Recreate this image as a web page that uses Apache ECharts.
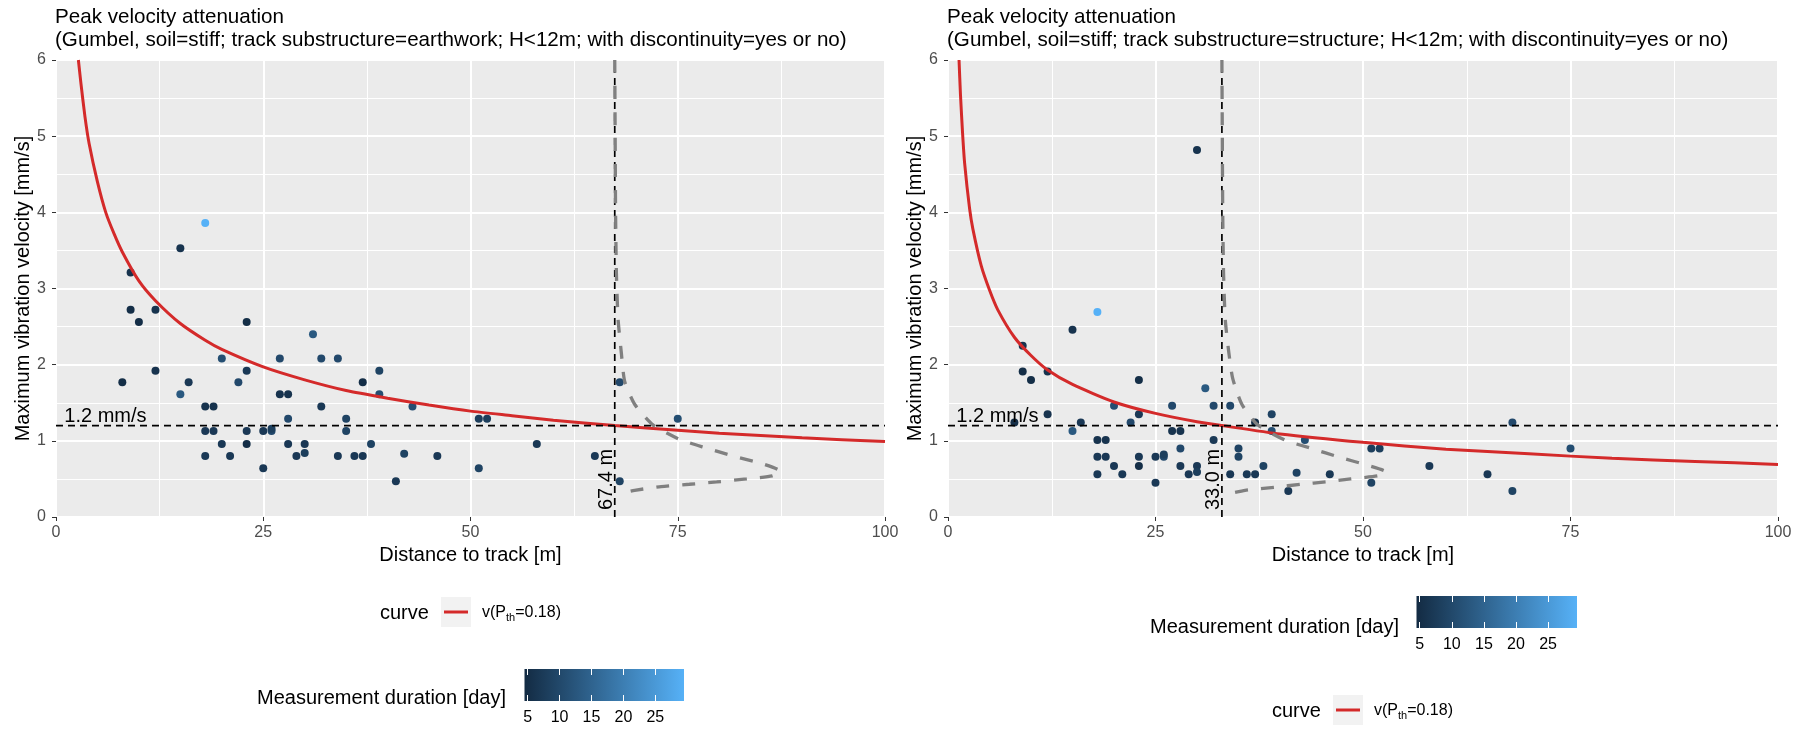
<!DOCTYPE html>
<html><head><meta charset="utf-8">
<script src="https://cdn.jsdelivr.net/npm/echarts@6/dist/echarts.min.js"></script>
<style>html,body{margin:0;padding:0;background:#fff}#c{width:1803px;height:729px}</style>
</head><body><div id="c"></div>
<script>
// ---------------- data ----------------
const distance = [8,9,9,10,12,12,15,15,16,18,18,19,18,19,18,20,20,21,22,23,23,23,23,25,25,26,26,27,27,28,28,28,29,30,30,30,31,32,32,34,34,35,35,36,37,37,38,39,39,41,42,43,46,51,52,51,58,65,68,68,75];
const duration = [5,6,5,5,6,6,6,13,7,29.5, 6,6,7,7,7,11,7,7,10,5, 7,7,5,7,7,10,8,10,6,6, 10,7,7,6,7,8,13,10,7,10, 7,9,9,7,5,7,9,9,11,7, 9,11,7,8,8,9,7,7,10,9, 11];
const velocityEarthwork = [1.77,3.21,2.72,2.56,2.72,1.92,3.53,1.61,1.77,3.86, 1.45,1.45,1.13,1.13,0.80,2.08,0.96,0.80,1.77,2.56, 1.92,1.13,0.96,0.64,1.13,1.13,1.16,2.08,1.61,1.61, 1.29,0.96,0.80,null,0.96,0.84,2.40,2.08,1.45,2.08, 0.80,1.29,1.13,0.80,1.77,0.80,0.96,1.92,1.61,0.47, 0.83,1.45,0.80,1.29,1.29,0.64,0.96,0.80,1.77,0.47, 1.29];
const velocityStructure = [1.24,2.25,1.91,1.80,1.91,1.35,2.46,1.13,1.24,2.69, 1.01,1.01,0.79,0.79,0.56,1.46,0.67,0.56,1.24,1.80, 1.35,0.79,0.67,0.45,0.79,0.79,0.82,1.46,1.13,1.13, 0.90,0.67,0.56,4.82,0.67,0.59,1.69,1.46,1.01,1.46, 0.56,0.90,0.79,0.56,1.24,0.56,0.67,1.35,1.13,0.34, 0.58,1.01,0.56,0.90,0.90,0.45,0.67,0.56,1.24,0.34, 0.90];
const curveEarthwork = [[2.7,6.0],[3,5.7],[3.5,5.25],[4,4.9],[5,4.4],[6,4.0],[7,3.72],[8,3.48],[10,3.1],[12,2.84],[15,2.54],[18,2.32],[20,2.2],[25,1.97],[30,1.8],[35,1.66],[40,1.56],[45,1.47],[50,1.39],[55,1.33],[60,1.27],[67.4,1.2],[75,1.14],[80,1.1],[90,1.04],[100,0.99]];
const curveStructure = [[1.33,6.0],[1.5,5.55],[1.75,5.05],[2,4.65],[2.6,4.05],[3,3.78],[4,3.3],[5,2.98],[6,2.72],[8,2.36],[10,2.12],[12,1.93],[15,1.74],[20,1.51],[25,1.36],[30,1.25],[33,1.2],[40,1.09],[50,0.98],[60,0.89],[70,0.83],[80,0.77],[90,0.73],[100,0.69]];
const densityEarthwork = [[67.4,6.0],[67.45,5.0],[67.5,4.0],[67.6,3.2],[67.8,2.6],[68.2,2.15],[68.6,1.78],[69.8,1.48],[72,1.21],[75.2,1.02],[78.3,0.91],[81.7,0.8],[85.2,0.7],[87.4,0.6],[86.4,0.54],[83.3,0.5],[79.7,0.46],[76.4,0.43],[73,0.4],[69.8,0.35],[68.1,0.31]];
const densityStructure = [[33.0,6.0],[33.05,5.0],[33.1,4.0],[33.2,3.2],[33.4,2.6],[33.8,2.19],[34.3,1.82],[35.4,1.48],[37.3,1.21],[40.6,1.01],[43.8,0.9],[47,0.79],[50.5,0.68],[52.8,0.59],[51.8,0.54],[48.5,0.5],[45.5,0.46],[42.6,0.43],[39.3,0.39],[35.8,0.35],[34,0.31]];
const thresholdVelocity = 1.2;
const thresholdDistance = [67.4, 33.0];
const colorRange = [4.5, 29.5];
const colorbarTicks = [5, 10, 15, 20, 25];
const titles = [
  'Peak velocity attenuation\n(Gumbel, soil=stiff; track substructure=earthwork; H<12m; with discontinuity=yes or no)',
  'Peak velocity attenuation\n(Gumbel, soil=stiff; track substructure=structure; H<12m; with discontinuity=yes or no)'
];
// -----------------------------------------------------------------

const FONT = '"Liberation Sans", Arial, Helvetica, sans-serif';
const LOW = '#132B43', HIGH = '#56B1F7';
const chart = echarts.init(document.getElementById('c'), null, {renderer: 'canvas'});

function pts(vel) {
  const out = [];
  distance.forEach((d, i) => { if (vel[i] != null) out.push([d, vel[i], duration[i]]); });
  return out;
}
function panelX(gi) {
  return {
    gridIndex: gi, type: 'value', min: 0, max: 100, interval: 25,
    name: 'Distance to track [m]', nameLocation: 'middle', nameGap: 26,
    nameTextStyle: {color: '#000', fontSize: 20, fontFamily: FONT},
    axisLine: {show: false},
    axisTick: {show: true, length: 4, lineStyle: {color: '#333', width: 1}},
    axisLabel: {color: '#4D4D4D', fontSize: 16, margin: 8, fontFamily: FONT},
    splitLine: {show: true, lineStyle: {color: '#fff', width: 2}},
    minorTick: {show: false, splitNumber: 2},
    minorSplitLine: {show: true, lineStyle: {color: '#fff', width: 1}}
  };
}
function panelY(gi) {
  return {
    gridIndex: gi, type: 'value', min: 0, max: 6, interval: 1,
    name: 'Maximum vibration velocity [mm/s]', nameLocation: 'middle', nameGap: 23,
    nameTextStyle: {color: '#000', fontSize: 20, fontFamily: FONT},
    axisLine: {show: false},
    axisTick: {show: true, length: 4, lineStyle: {color: '#333', width: 1}},
    axisLabel: {color: '#4D4D4D', fontSize: 16, margin: 10, fontFamily: FONT},
    splitLine: {show: true, lineStyle: {color: '#fff', width: 2}},
    minorTick: {show: false, splitNumber: 2},
    minorSplitLine: {show: true, lineStyle: {color: '#fff', width: 1}}
  };
}
function cbX(gi, pos, labels) {
  return {
    gridIndex: gi, type: 'value', min: colorRange[0], max: colorRange[1], position: pos, z: 5,
    axisLine: {show: false},
    axisTick: {show: true, inside: true, length: 6, customValues: colorbarTicks, lineStyle: {color: '#fff', width: 1}},
    axisLabel: {show: labels, customValues: colorbarTicks, color: '#000', fontSize: 16, margin: 9, fontFamily: FONT},
    splitLine: {show: false}
  };
}
function cbY(gi) { return {gridIndex: gi, type: 'value', min: 0, max: 1, show: false}; }
function colorbarSeries(xi, yi) {
  return {
    type: 'custom', xAxisIndex: xi, yAxisIndex: yi, silent: true, z: 0,
    data: [colorRange],
    renderItem: function (params, api) {
      const p0 = api.coord([api.value(0), 0]);
      const p1 = api.coord([api.value(1), 1]);
      return {type: 'rect', shape: {x: p0[0], y: p1[1], width: p1[0] - p0[0], height: p0[1] - p1[1]},
        style: {fill: new echarts.graphic.LinearGradient(0, 0, 1, 0, [{offset: 0, color: LOW}, {offset: 1, color: HIGH}])}};
    }
  };
}
function lineS(xi, data, style, z, smooth) {
  return {type: 'line', xAxisIndex: xi, yAxisIndex: xi, data: data, symbol: 'none', smooth: smooth || false,
    lineStyle: style, z: z, silent: true, animation: false};
}

const option = {
  animation: false,
  backgroundColor: '#fff',
  title: titles.map((t, i) => ({
    text: t, left: i === 0 ? 55 : 947, top: 6, padding: 0,
    textStyle: {fontSize: 20.6, fontWeight: 'normal', color: '#000', lineHeight: 23, fontFamily: FONT}
  })),
  grid: [
    {left: 56, top: 60, width: 829, height: 457, show: true, backgroundColor: '#EBEBEB', borderWidth: 0},
    {left: 948, top: 60, width: 830, height: 457, show: true, backgroundColor: '#EBEBEB', borderWidth: 0},
    {left: 524.5, top: 669, width: 159.5, height: 32},
    {left: 1416.5, top: 596, width: 160.5, height: 32}
  ],
  xAxis: [panelX(0), panelX(1), cbX(2, 'bottom', true), cbX(2, 'top', false), cbX(3, 'bottom', true), cbX(3, 'top', false)],
  yAxis: [panelY(0), panelY(1), cbY(2), cbY(3)],
  visualMap: [{type: 'continuous', show: false, min: colorRange[0], max: colorRange[1], dimension: 2,
    seriesIndex: [0, 1], inRange: {color: [LOW, HIGH]}}],
  series: [
    {type: 'scatter', xAxisIndex: 0, yAxisIndex: 0, data: pts(velocityEarthwork), symbolSize: 8, z: 3, itemStyle: {opacity: 1}},
    {type: 'scatter', xAxisIndex: 1, yAxisIndex: 1, data: pts(velocityStructure), symbolSize: 8, z: 3, itemStyle: {opacity: 1}},
    lineS(0, curveEarthwork, {color: '#D42A2A', width: 3}, 4, 0.2),
    lineS(1, curveStructure, {color: '#D42A2A', width: 3}, 4, 0.2),
    lineS(0, [[0, thresholdVelocity], [100, thresholdVelocity]], {color: '#000', width: 1.7, type: [7, 5]}, 5),
    lineS(1, [[0, thresholdVelocity], [100, thresholdVelocity]], {color: '#000', width: 1.7, type: [7, 5]}, 5),
    lineS(0, [[thresholdDistance[0], 0], [thresholdDistance[0], 6]], {color: '#000', width: 1.7, type: [7, 5]}, 5),
    lineS(1, [[thresholdDistance[1], 0], [thresholdDistance[1], 6]], {color: '#000', width: 1.7, type: [7, 5]}, 5),
    lineS(0, densityEarthwork, {color: '#808080', width: 3.3, type: [13, 13]}, 5, 0.2),
    lineS(1, densityStructure, {color: '#808080', width: 3.3, type: [13, 13]}, 5, 0.2),
    colorbarSeries(2, 2),
    colorbarSeries(4, 3)
  ]
};
chart.setOption(option);

// annotations positioned through the axes' scales
const g = [];
[0, 1].forEach(gi => {
  const pv = chart.convertToPixel({gridIndex: gi}, [thresholdDistance[gi], 0]);
  g.push({type: 'text', x: pv[0] + 2, y: pv[1] - 7, rotation: Math.PI / 2, z: 10,
    style: {text: thresholdDistance[gi].toFixed(1) + ' m', fontSize: 20, fontFamily: FONT, fill: '#000', align: 'left', verticalAlign: 'bottom'}});
  const ph = chart.convertToPixel({gridIndex: gi}, [1.0, thresholdVelocity]);
  g.push({type: 'text', x: ph[0], y: ph[1] + 1, z: 10,
    style: {text: thresholdVelocity.toFixed(1) + ' mm/s', fontSize: 20, fontFamily: FONT, fill: '#000', align: 'left', verticalAlign: 'bottom'}});
});
// legends
function curveLegend(titleX, keyX, keyY, cy) {
  g.push({type: 'text', x: titleX, y: cy, style: {text: 'curve', fontSize: 20, fontFamily: FONT, fill: '#000', align: 'left', verticalAlign: 'middle'}});
  g.push({type: 'rect', shape: {x: keyX, y: keyY, width: 30, height: 30}, style: {fill: '#F2F2F2'}});
  g.push({type: 'line', shape: {x1: keyX + 3, y1: keyY + 15, x2: keyX + 27, y2: keyY + 15}, style: {stroke: '#D42A2A', lineWidth: 3}});
  g.push({type: 'text', x: keyX + 41, y: cy, style: {
    text: '{n|v(P}{s|th}{n|=0.18)}', fontFamily: FONT, fill: '#000', align: 'left', verticalAlign: 'middle',
    rich: {n: {fontSize: 16, lineHeight: 20, fontFamily: FONT}, s: {fontSize: 11, lineHeight: 11, verticalAlign: 'top', padding: [9, 0, 0, 0], fontFamily: FONT}}
  }});
}
curveLegend(380, 441, 597, 613);
curveLegend(1272, 1333, 695, 711);
g.push({type: 'text', x: 257, y: 698, style: {text: 'Measurement duration [day]', fontSize: 20, fontFamily: FONT, fill: '#000', align: 'left', verticalAlign: 'middle'}});
g.push({type: 'text', x: 1150, y: 627, style: {text: 'Measurement duration [day]', fontSize: 20, fontFamily: FONT, fill: '#000', align: 'left', verticalAlign: 'middle'}});
chart.setOption({graphic: g});
</script></body></html>
